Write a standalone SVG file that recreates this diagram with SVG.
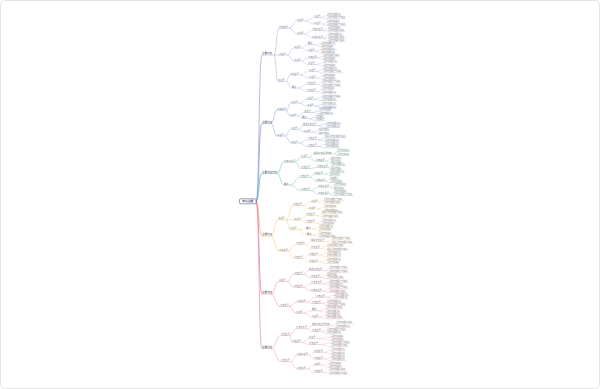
<svg xmlns="http://www.w3.org/2000/svg" width="600" height="389" viewBox="0 0 600 389">
<style>
text{font-family:"Noto Sans CJK SC","Noto Sans",sans-serif;font-size:2px;fill:#8a8a8a}
.h0{font-size:2.8px;font-weight:bold;fill:#2a2f55}
.h1{font-size:2.5px;fill:#555}
.h2{font-size:2.2px;fill:#777}
path{fill:none;stroke-width:.25}
.a{stroke-width:.45}.b{stroke-width:.38}.c{stroke-width:.3}.r{stroke-width:.7}
.s1 path,path.s1{stroke:#a596d6}
.s2 path,path.s2{stroke:#6f8fe0}
.s3 path,path.s3{stroke:#4fb89c}
.s4 path,path.s4{stroke:#f3b35a}
.s5 path,path.s5{stroke:#ec7488}
.s6 path,path.s6{stroke:#e888b8}
</style>
<rect x="0.5" y="0.5" width="599" height="388" rx="5" fill="#fff" stroke="#e3e3e3"/>
<g id="connectors">
<path class="r s1" d="M256 201.3C259.5 201.3 258.5 55 262 55"/>
<path class="r s2" d="M256 201.3C259.5 201.3 258.5 123.5 262 123.5"/>
<path class="r s3" d="M256 201.3C259.5 201.3 258.5 173.5 262 173.5"/>
<path class="r s4" d="M256 201.3C259.5 201.3 258.5 236 262 236"/>
<path class="r s5" d="M256 201.3C259.5 201.3 258.5 294 262 294"/>
<path class="r s6" d="M256 201.3C259.5 201.3 258.5 348.5 262 348.5"/>
<g class="s1">
<path class="a" d="M274 55C276.5 55 276.5 28 279 28"/>
<path class="a" d="M274 55H279"/>
<path class="a" d="M274 55C276 55 276 81.5 278 81.5"/>
<path class="b" d="M289 28C293 28 293 21 297 21"/>
<path class="b" d="M289 28C293 28 293 34 297 34"/>
<path class="b" d="M287 55C290.5 55 290.5 48 294 48"/>
<path class="b" d="M287 55C290.5 55 290.5 61 294 61"/>
<path class="b" d="M286 81.5C288 81.5 288 75 290 75"/>
<path class="b" d="M286 81.5C289 81.5 289 88 292 88"/>
<path class="c" d="M305 21C309.5 21 309.5 17.5 314 17.5"/>
<path class="c" d="M305 21C309.5 21 309.5 24 314 24"/>
<path class="c" d="M305 34C308.5 34 308.5 30.5 312 30.5"/>
<path class="c" d="M305 34C308.5 34 308.5 38 312 38"/>
<path class="c" d="M301 48C304.5 48 304.5 44.5 308 44.5"/>
<path class="c" d="M301 48C304.5 48 304.5 51 308 51"/>
<path class="c" d="M301 61C304.5 61 304.5 58 308 58"/>
<path class="c" d="M301 61C304.5 61 304.5 64.5 308 64.5"/>
<path class="c" d="M300 75C304.5 75 304.5 71.5 309 71.5"/>
<path class="c" d="M300 75C304.5 75 304.5 78 309 78"/>
<path class="c" d="M298 88C302.5 88 302.5 84.5 307 84.5"/>
<path class="c" d="M298 88C302.5 88 302.5 91.5 307 91.5"/>
<path d="M321 17.5C324 17.5 324 15.5 327 15.5"/>
<path d="M321 17.5C324 17.5 324 18.8 327 18.8"/>
<path d="M322 24C324.5 24 324.5 22 327 22"/>
<path d="M322 24C324.5 24 324.5 25.3 327 25.3"/>
<path d="M323 30.5C325.5 30.5 325.5 28.6 328 28.6"/>
<path d="M323 30.5C325.5 30.5 325.5 31.8 328 31.8"/>
<path d="M323 38C325.5 38 325.5 35 328 35"/>
<path d="M323 38C325.5 38 325.5 38.2 328 38.2"/>
<path d="M323 38C325.5 38 325.5 41.4 328 41.4"/>
<path d="M314 44.5C317.5 44.5 317.5 44 321 44"/>
<path d="M314 44.5C317.5 44.5 317.5 47 321 47"/>
<path d="M315 51C318 51 318 49.9 321 49.9"/>
<path d="M315 51C318 51 318 53 321 53"/>
<path d="M317 58C320 58 320 56.2 323 56.2"/>
<path d="M317 58C320 58 320 59.4 323 59.4"/>
<path d="M315 64.5C319 64.5 319 62.7 323 62.7"/>
<path d="M315 64.5C319 64.5 319 66 323 66"/>
<path d="M316 71.5C319.5 71.5 319.5 69.5 323 69.5"/>
<path d="M316 71.5C319.5 71.5 319.5 72.8 323 72.8"/>
<path d="M316 78C319.5 78 319.5 76 323 76"/>
<path d="M316 78C319.5 78 319.5 79.4 323 79.4"/>
<path d="M317 84.5C319.5 84.5 319.5 82.8 322 82.8"/>
<path d="M317 84.5C319.5 84.5 319.5 86.2 322 86.2"/>
<path d="M317 91.5C319.5 91.5 319.5 89.6 322 89.6"/>
<path d="M317 91.5C319.5 91.5 319.5 93 322 93"/>
</g>
<g class="s2">
<path class="a" d="M271 123.5C274 123.5 274 110 277 110"/>
<path class="a" d="M271 123.5C274 123.5 274 136 277 136"/>
<path class="b" d="M286 110C288.5 110 288.5 103 291 103"/>
<path class="b" d="M286 110C288 110 288 116 290 116"/>
<path class="b" d="M285 136C288 136 288 129.5 291 129.5"/>
<path class="b" d="M285 136C288 136 288 143 291 143"/>
<path class="c" d="M299 103C303 103 303 99.5 307 99.5"/>
<path class="c" d="M299 103C303 103 303 106 307 106"/>
<path class="c" d="M298 116C301 116 301 112.5 304 112.5"/>
<path class="c" d="M298 116C300 116 300 118.5 302 118.5"/>
<path class="c" d="M298 129.5C300.5 129.5 300.5 125.5 303 125.5"/>
<path class="c" d="M298 129.5C301 129.5 301 132 304 132"/>
<path class="c" d="M299 143C303.5 143 303.5 139.8 308 139.8"/>
<path class="c" d="M299 143C303.5 143 303.5 146.5 308 146.5"/>
<path d="M314 99.5C318 99.5 318 97 322 97"/>
<path d="M314 99.5C318 99.5 318 100.5 322 100.5"/>
<path d="M315 106C318.5 106 318.5 104.7 322 104.7"/>
<path d="M315 106C318.5 106 318.5 108 322 108"/>
<path d="M312 112.5C315.5 112.5 315.5 110.8 319 110.8"/>
<path d="M312 112.5C315.5 112.5 315.5 114 319 114"/>
<path d="M308 118.5C312 118.5 312 117.5 316 117.5"/>
<path d="M308 118.5C312 118.5 312 120.8 316 120.8"/>
<path d="M317 125.5C321.5 125.5 321.5 124 326 124"/>
<path d="M317 125.5C321.5 125.5 321.5 127.6 326 127.6"/>
<path d="M311 132C315 132 315 130.6 319 130.6"/>
<path d="M311 132C315 132 315 134 319 134"/>
<path d="M318 139.8C321.5 139.8 321.5 137.6 325 137.6"/>
<path d="M318 139.8C321.5 139.8 321.5 141 325 141"/>
<path d="M317 146.5C321 146.5 321 144.5 325 144.5"/>
<path d="M317 146.5C321 146.5 321 147.8 325 147.8"/>
</g>
<g class="s3">
<path class="a" d="M277 173.5C280.5 173.5 280.5 162 284 162"/>
<path class="a" d="M277 173.5C280.5 173.5 280.5 185 284 185"/>
<path class="b" d="M295 162C298 162 298 157.5 301 157.5"/>
<path class="b" d="M295 162C298 162 298 168.5 301 168.5"/>
<path class="b" d="M290 185C295 185 295 177.5 300 177.5"/>
<path class="b" d="M290 185C295.5 185 295.5 190.5 301 190.5"/>
<path class="c" d="M308 157.5C311 157.5 311 154 314 154"/>
<path class="c" d="M308 157.5C312 157.5 312 161 316 161"/>
<path class="c" d="M310 168.5C313.5 168.5 313.5 167.5 317 167.5"/>
<path class="c" d="M310 177.5C312 177.5 312 174 314 174"/>
<path class="c" d="M310 177.5C313 177.5 313 181 316 181"/>
<path class="c" d="M311 190.5C314.5 190.5 314.5 187 318 187"/>
<path class="c" d="M311 190.5C314.5 190.5 314.5 194 318 194"/>
<path d="M334 154C335.5 154 335.5 151.5 337 151.5"/>
<path d="M334 154C335.5 154 335.5 155.6 337 155.6"/>
<path d="M326 161C328.5 161 328.5 159.2 331 159.2"/>
<path d="M326 161C328.5 161 328.5 162.6 331 162.6"/>
<path d="M328 167.5C329.5 167.5 329.5 165.8 331 165.8"/>
<path d="M328 167.5C329.5 167.5 329.5 169.2 331 169.2"/>
<path d="M324 174C327 174 327 172.5 330 172.5"/>
<path d="M324 174C327 174 327 175.8 330 175.8"/>
<path d="M325 181C327.5 181 327.5 179.2 330 179.2"/>
<path d="M325 181C327.5 181 327.5 182.5 330 182.5"/>
<path d="M330 187C332 187 332 185.8 334 185.8"/>
<path d="M330 187C332 187 332 189.2 334 189.2"/>
<path d="M330 194C332 194 332 192.3 334 192.3"/>
<path d="M330 194C332 194 332 195.6 334 195.6"/>
</g>
<g class="s4">
<path class="a" d="M271 236C274.5 236 274.5 219.7 278 219.7"/>
<path class="a" d="M271 236C275 236 275 251 279 251"/>
<path class="b" d="M286 219.7C289.5 219.7 289.5 205.5 293 205.5"/>
<path class="b" d="M286 219.7C290 219.7 290 220 294 220"/>
<path class="b" d="M286 219.7C288 219.7 288 229.5 290 229.5"/>
<path class="b" d="M288 251C292 251 292 244.8 296 244.8"/>
<path class="b" d="M288 251C291 251 291 258.5 294 258.5"/>
<path class="c" d="M302 205.5C306.5 205.5 306.5 202 311 202"/>
<path class="c" d="M302 205.5C305.5 205.5 305.5 209 309 209"/>
<path class="c" d="M301 220C303.5 220 303.5 215.5 306 215.5"/>
<path class="c" d="M301 220C303.5 220 303.5 222.8 306 222.8"/>
<path class="c" d="M298 229.5C302 229.5 302 229 306 229"/>
<path class="c" d="M298 229.5C302.5 229.5 302.5 235 307 235"/>
<path class="c" d="M305 244.8C308 244.8 308 241.5 311 241.5"/>
<path class="c" d="M305 244.8C308 244.8 308 248.3 311 248.3"/>
<path class="c" d="M303 258.5C306 258.5 306 255 309 255"/>
<path class="c" d="M303 258.5C306 258.5 306 262 309 262"/>
<path d="M318 202C321 202 321 200.5 324 200.5"/>
<path d="M318 202C321 202 321 203.8 324 203.8"/>
<path d="M317 209C320.5 209 320.5 207.3 324 207.3"/>
<path d="M317 209C320.5 209 320.5 211 324 211"/>
<path d="M316 215.5C319 215.5 319 213.8 322 213.8"/>
<path d="M316 215.5C319 215.5 319 217.2 322 217.2"/>
<path d="M316 222.8C319 222.8 319 221.2 322 221.2"/>
<path d="M316 222.8C319 222.8 319 224.5 322 224.5"/>
<path d="M312 229C315.5 229 315.5 227.5 319 227.5"/>
<path d="M312 229C315.5 229 315.5 230.8 319 230.8"/>
<path d="M313 235C316 235 316 234 319 234"/>
<path d="M313 235C316 235 316 237.2 319 237.2"/>
<path d="M326 241.5C329 241.5 329 239.8 332 239.8"/>
<path d="M326 241.5C329 241.5 329 243.4 332 243.4"/>
<path d="M321 248.3C324 248.3 324 246.5 327 246.5"/>
<path d="M321 248.3C324 248.3 324 250.2 327 250.2"/>
<path d="M319 255C323 255 323 253.5 327 253.5"/>
<path d="M319 255C323 255 323 256.8 327 256.8"/>
<path d="M319 262C323 262 323 260.2 327 260.2"/>
<path d="M319 262C323 262 323 263.5 327 263.5"/>
</g>
<g class="s5">
<path class="a" d="M271 294C275 294 275 281.3 279 281.3"/>
<path class="a" d="M271 294C275.5 294 275.5 306.5 280 306.5"/>
<path class="b" d="M287 281.3C290.5 281.3 290.5 274.5 294 274.5"/>
<path class="b" d="M287 281.3C290.5 281.3 290.5 287.3 294 287.3"/>
<path class="b" d="M289 306.5C293 306.5 293 302 297 302"/>
<path class="b" d="M289 306.5C292.5 306.5 292.5 313.2 296 313.2"/>
<path class="c" d="M303 274.5C306 274.5 306 270.5 309 270.5"/>
<path class="c" d="M303 274.5C307 274.5 307 277.3 311 277.3"/>
<path class="c" d="M303 287.3C307 287.3 307 283.8 311 283.8"/>
<path class="c" d="M303 287.3C307 287.3 307 291.2 311 291.2"/>
<path class="c" d="M307 302C311.5 302 311.5 297.2 316 297.2"/>
<path class="c" d="M307 302C309.5 302 309.5 303.5 312 303.5"/>
<path class="c" d="M303 313.2C307.5 313.2 307.5 310.8 312 310.8"/>
<path class="c" d="M303 313.2C307.5 313.2 307.5 317.2 312 317.2"/>
<path d="M325 270.5C327 270.5 327 268.8 329 268.8"/>
<path d="M325 270.5C327 270.5 327 272.2 329 272.2"/>
<path d="M320 277.3C323.5 277.3 323.5 275.4 327 275.4"/>
<path d="M320 277.3C323.5 277.3 323.5 278.7 327 278.7"/>
<path d="M323 283.8C326 283.8 326 282.2 329 282.2"/>
<path d="M323 283.8C326 283.8 326 285.4 329 285.4"/>
<path d="M323 291.2C326 291.2 326 288.8 329 288.8"/>
<path d="M323 291.2C326 291.2 326 292.2 329 292.2"/>
<path d="M325 297.2C329.5 297.2 329.5 295.5 334 295.5"/>
<path d="M325 297.2C329.5 297.2 329.5 298.8 334 298.8"/>
<path d="M322 303.5C324.5 303.5 324.5 302.2 327 302.2"/>
<path d="M322 303.5C324.5 303.5 324.5 305.5 327 305.5"/>
<path d="M318 310.8C322 310.8 322 308.8 326 308.8"/>
<path d="M318 310.8C322 310.8 322 312.2 326 312.2"/>
<path d="M319 317.2C322.5 317.2 322.5 315.5 326 315.5"/>
<path d="M319 317.2C322.5 317.2 322.5 318.8 326 318.8"/>
</g>
<g class="s6">
<path class="a" d="M271 348.5C276 348.5 276 335.5 281 335.5"/>
<path class="a" d="M271 348.5C276 348.5 276 361.8 281 361.8"/>
<path class="b" d="M290 335.5C293 335.5 293 328.8 296 328.8"/>
<path class="b" d="M290 335.5C291 335.5 291 342.5 292 342.5"/>
<path class="b" d="M291 361.8C294 361.8 294 355 297 355"/>
<path class="b" d="M291 361.8C294 361.8 294 369 297 369"/>
<path class="c" d="M307 328.8C309.5 328.8 309.5 325.5 312 325.5"/>
<path class="c" d="M307 328.8C309.5 328.8 309.5 331.5 312 331.5"/>
<path class="c" d="M302 342.5C305.5 342.5 305.5 338.5 309 338.5"/>
<path class="c" d="M302 342.5C305.5 342.5 305.5 344.5 309 344.5"/>
<path class="c" d="M309 355C311.5 355 311.5 352.3 314 352.3"/>
<path class="c" d="M309 355C311.5 355 311.5 359 314 359"/>
<path class="c" d="M307 369C310.5 369 310.5 365 314 365"/>
<path class="c" d="M307 369C310.5 369 310.5 372.4 314 372.4"/>
<path d="M332 325.5C334 325.5 334 323.8 336 323.8"/>
<path d="M332 325.5C334 325.5 334 327.2 336 327.2"/>
<path d="M322 331.5C324.5 331.5 324.5 330.5 327 330.5"/>
<path d="M322 331.5C324.5 331.5 324.5 333.8 327 333.8"/>
<path d="M317 338.5C324 338.5 324 337 331 337"/>
<path d="M317 338.5C324 338.5 324 340.2 331 340.2"/>
<path d="M319 344.5C325 344.5 325 343.4 331 343.4"/>
<path d="M319 344.5C325 344.5 325 346.7 331 346.7"/>
<path d="M324 352.3C327.5 352.3 327.5 350.7 331 350.7"/>
<path d="M324 352.3C327.5 352.3 327.5 354 331 354"/>
<path d="M324 359C327.5 359 327.5 357.4 331 357.4"/>
<path d="M324 359C327.5 359 327.5 360.7 331 360.7"/>
<path d="M321 365C325 365 325 364 329 364"/>
<path d="M321 365C325 365 325 367.4 329 367.4"/>
<path d="M324 372.4C326.5 372.4 326.5 370.7 329 370.7"/>
<path d="M324 372.4C326.5 372.4 326.5 374 329 374"/>
</g>
</g>
<g id="root"><rect x="239.5" y="198.8" width="16.5" height="5" rx="1.2" fill="#fff" stroke="#3b3f7a" stroke-width=".5"/><text class="h0" x="247.75" y="202.3" text-anchor="middle">中心主题</text></g>
<g class="s1">
<g id="t1"><path class="a" d="M262 55h12"/><text class="h1" x="262" y="54.4">主要内容</text></g>
<g id="t1a"><path class="b" d="M279 28h10"/><text class="h2" x="279" y="27.5">分支主题</text></g>
<g id="t1a1"><path class="c" d="M297 21h8"/><text class="h2" x="297" y="20.5">子主题</text></g>
<g id="t1a1a"><path class="c" d="M314 17.5h7"/><text class="h2" x="314" y="17">子主题</text></g>
<g id="t1a1a1"><path d="M327 15.5h14"/><text x="327" y="15.1">具体内容要点项</text></g>
<g id="t1a1a2"><path d="M327 18.8h19"/><text x="327" y="18.4">具体内容要点与说明</text></g>
<g id="t1a1b"><path class="c" d="M314 24h8"/><text class="h2" x="314" y="23.5">子主题</text></g>
<g id="t1a1b1"><path d="M327 22h13"/><text x="327" y="21.6">具体内容说明</text></g>
<g id="t1a1b2"><path d="M327 25.3h19"/><text x="327" y="24.9">具体内容要点与说明</text></g>
<g id="t1a2"><path class="c" d="M297 34h8"/><text class="h2" x="297" y="33.5">子主题</text></g>
<g id="t1a2a"><path class="c" d="M312 30.5h11"/><text class="h2" x="312" y="30">分支子主题</text></g>
<g id="t1a2a1"><path d="M328 28.6h13"/><text x="328" y="28.2">具体内容说明</text></g>
<g id="t1a2a2"><path d="M328 31.8h18"/><text x="328" y="31.4">具体内容要点说明</text></g>
<g id="t1a2b"><path class="c" d="M312 38h11"/><text class="h2" x="312" y="37.5">分支子主题</text></g>
<g id="t1a2b1"><path d="M328 35h16"/><text x="328" y="34.6">具体内容要点项</text></g>
<g id="t1a2b2"><path d="M328 38.2h18"/><text x="328" y="37.8">具体内容要点说明</text></g>
<g id="t1a2b3"><path d="M328 41.4h18"/><text x="328" y="41">具体内容要点说明</text></g>
<g id="t1b"><path class="b" d="M279 55h8"/><text class="h2" x="279" y="54.5">子主题</text></g>
<g id="t1b1"><path class="c" d="M294 48h7"/><text class="h2" x="294" y="47.5">子主题</text></g>
<g id="t1b1a"><path class="c" d="M308 44.5h6"/><text class="h2" x="308" y="44">要点</text></g>
<g id="t1b1a1"><path d="M321 44h15"/><text x="321" y="43.6">具体内容要点项</text></g>
<g id="t1b1a2"><path d="M321 47h12"/><text x="321" y="46.6">具体内容说明</text></g>
<g id="t1b1b"><path class="c" d="M308 51h7"/><text class="h2" x="308" y="50.5">子主题</text></g>
<g id="t1b1b1"><path d="M321 49.9h16"/><text x="321" y="49.5">具体内容要点项</text></g>
<g id="t1b1b2"><path d="M321 53h15"/><text x="321" y="52.6">具体内容要点项</text></g>
<g id="t1b2"><path class="c" d="M294 61h7"/><text class="h2" x="294" y="60.5">子主题</text></g>
<g id="t1b2a"><path class="c" d="M308 58h9"/><text class="h2" x="308" y="57.5">分支主题</text></g>
<g id="t1b2a1"><path d="M323 56.2h18"/><text x="323" y="55.8">具体内容要点说明</text></g>
<g id="t1b2a2"><path d="M323 59.4h12"/><text x="323" y="59">具体内容说明</text></g>
<g id="t1b2b"><path class="c" d="M308 64.5h7"/><text class="h2" x="308" y="64">子主题</text></g>
<g id="t1b2b1"><path d="M323 62.7h15"/><text x="323" y="62.3">具体内容要点项</text></g>
<g id="t1b2b2"><path d="M323 66h13"/><text x="323" y="65.6">具体内容说明</text></g>
<g id="t1c"><path class="b" d="M278 81.5h8"/><text class="h2" x="278" y="81">子主题</text></g>
<g id="t1c1"><path class="c" d="M290 75h10"/><text class="h2" x="290" y="74.5">分支主题</text></g>
<g id="t1c1a"><path class="c" d="M309 71.5h7"/><text class="h2" x="309" y="71">子主题</text></g>
<g id="t1c1a1"><path d="M323 69.5h15"/><text x="323" y="69.1">具体内容要点项</text></g>
<g id="t1c1a2"><path d="M323 72.8h20"/><text x="323" y="72.4">具体内容要点与说明</text></g>
<g id="t1c1b"><path class="c" d="M309 78h7"/><text class="h2" x="309" y="77.5">子主题</text></g>
<g id="t1c1b1"><path d="M323 76h12"/><text x="323" y="75.6">具体内容说明</text></g>
<g id="t1c1b2"><path d="M323 79.4h13"/><text x="323" y="79">具体内容说明</text></g>
<g id="t1c2"><path class="c" d="M292 88h6"/><text class="h2" x="292" y="87.5">要点</text></g>
<g id="t1c2a"><path class="c" d="M307 84.5h10"/><text class="h2" x="307" y="84">分支主题</text></g>
<g id="t1c2a1"><path d="M322 82.8h20"/><text x="322" y="82.4">具体内容要点与说明</text></g>
<g id="t1c2a2"><path d="M322 86.2h20"/><text x="322" y="85.8">具体内容要点与说明</text></g>
<g id="t1c2b"><path class="c" d="M307 91.5h10"/><text class="h2" x="307" y="91">分支主题</text></g>
<g id="t1c2b1"><path d="M322 89.6h12"/><text x="322" y="89.2">具体内容说明</text></g>
<g id="t1c2b2"><path d="M322 93h15"/><text x="322" y="92.6">具体内容要点项</text></g>
</g>
<g class="s2">
<g id="t2"><path class="a" d="M262 123.5h9"/><text class="h1" x="262" y="122.9">主要内容</text></g>
<g id="t2a"><path class="b" d="M277 110h9"/><text class="h2" x="277" y="109.5">分支主题</text></g>
<g id="t2a1"><path class="c" d="M291 103h8"/><text class="h2" x="291" y="102.5">子主题</text></g>
<g id="t2a1a"><path class="c" d="M307 99.5h7"/><text class="h2" x="307" y="99">子主题</text></g>
<g id="t2a1a1"><path d="M322 97h19"/><text x="322" y="96.6">具体内容要点与说明</text></g>
<g id="t2a1a2"><path d="M322 100.5h16"/><text x="322" y="100.1">具体内容要点项</text></g>
<g id="t2a1b"><path class="c" d="M307 106h8"/><text class="h2" x="307" y="105.5">子主题</text></g>
<g id="t2a1b1"><path d="M322 104.7h15"/><text x="322" y="104.3">具体内容要点项</text></g>
<g id="t2a1b2"><path d="M322 108h15"/><text x="322" y="107.6">具体内容要点项</text></g>
<g id="t2a2"><path class="c" d="M290 116h8"/><text class="h2" x="290" y="115.5">子主题</text></g>
<g id="t2a2a"><path class="c" d="M304 112.5h8"/><text class="h2" x="304" y="112">子主题</text></g>
<g id="t2a2a1"><path d="M319 110.8h12"/><text x="319" y="110.4">具体内容说明</text></g>
<g id="t2a2a2"><path d="M319 114h15"/><text x="319" y="113.6">具体内容要点项</text></g>
<g id="t2a2b"><path class="c" d="M302 118.5h6"/><text class="h2" x="302" y="118">要点</text></g>
<g id="t2a2b1"><path d="M316 117.5h9"/><text x="316" y="117.1">内容要点</text></g>
<g id="t2a2b2"><path d="M316 120.8h9"/><text x="316" y="120.4">内容要点</text></g>
<g id="t2b"><path class="b" d="M277 136h8"/><text class="h2" x="277" y="135.5">子主题</text></g>
<g id="t2b1"><path class="c" d="M291 129.5h7"/><text class="h2" x="291" y="129">子主题</text></g>
<g id="t2b1a"><path class="c" d="M303 125.5h14"/><text class="h2" x="303" y="125">相关分支主题</text></g>
<g id="t2b1a1"><path d="M326 124h16"/><text x="326" y="123.6">具体内容要点项</text></g>
<g id="t2b1a2"><path d="M326 127.6h14"/><text x="326" y="127.2">具体内容要点项</text></g>
<g id="t2b1b"><path class="c" d="M304 132h7"/><text class="h2" x="304" y="131.5">子主题</text></g>
<g id="t2b1b1"><path d="M319 130.6h11"/><text x="319" y="130.2">相关内容项</text></g>
<g id="t2b1b2"><path d="M319 134h11"/><text x="319" y="133.6">相关内容项</text></g>
<g id="t2b2"><path class="c" d="M291 143h8"/><text class="h2" x="291" y="142.5">子主题</text></g>
<g id="t2b2a"><path class="c" d="M308 139.8h10"/><text class="h2" x="308" y="139.3">分支主题</text></g>
<g id="t2b2a1"><path d="M325 137.6h22"/><text x="325" y="137.2">相关具体内容要点说明</text></g>
<g id="t2b2a2"><path d="M325 141h14"/><text x="325" y="140.6">具体内容要点项</text></g>
<g id="t2b2b"><path class="c" d="M308 146.5h9"/><text class="h2" x="308" y="146">分支主题</text></g>
<g id="t2b2b1"><path d="M325 144.5h14"/><text x="325" y="144.1">具体内容要点项</text></g>
<g id="t2b2b2"><path d="M325 147.8h14"/><text x="325" y="147.4">具体内容要点项</text></g>
</g>
<g class="s3">
<g id="t3"><path class="a" d="M262 173.5h15"/><text class="h1" x="262" y="172.9">主要内容方向</text></g>
<g id="t3a"><path class="b" d="M284 162h11"/><text class="h2" x="284" y="161.5">分支子主题</text></g>
<g id="t3a1"><path class="c" d="M301 157.5h7"/><text class="h2" x="301" y="157">子主题</text></g>
<g id="t3a1a"><path class="c" d="M314 154h20"/><text class="h2" x="314" y="153.5">相关分支主题内容</text></g>
<g id="t3a1a1"><path d="M337 151.5h13"/><text x="337" y="151.1">具体内容说明</text></g>
<g id="t3a1a2"><path d="M337 155.6h12"/><text x="337" y="155.2">具体内容说明</text></g>
<g id="t3a1b"><path class="c" d="M316 161h10"/><text class="h2" x="316" y="160.5">分支主题</text></g>
<g id="t3a1b1"><path d="M331 159.2h11"/><text x="331" y="158.8">相关内容项</text></g>
<g id="t3a1b2"><path d="M331 162.6h11"/><text x="331" y="162.2">相关内容项</text></g>
<g id="t3a2"><path class="c" d="M301 168.5h9"/><text class="h2" x="301" y="168">分支主题</text></g>
<g id="t3a2a"><path class="c" d="M317 167.5h11"/><text class="h2" x="317" y="167">分支子主题</text></g>
<g id="t3a2a1"><path d="M331 165.8h15"/><text x="331" y="165.4">具体内容要点项</text></g>
<g id="t3a2a2"><path d="M331 169.2h11"/><text x="331" y="168.8">相关内容项</text></g>
<g id="t3b"><path class="b" d="M284 185h6"/><text class="h2" x="284" y="184.5">要点</text></g>
<g id="t3b1"><path class="c" d="M300 177.5h10"/><text class="h2" x="300" y="177">分支主题</text></g>
<g id="t3b1a"><path class="c" d="M314 174h10"/><text class="h2" x="314" y="173.5">分支主题</text></g>
<g id="t3b1a1"><path d="M330 172.5h15"/><text x="330" y="172.1">具体内容要点项</text></g>
<g id="t3b1a2"><path d="M330 175.8h10"/><text x="330" y="175.4">相关内容项</text></g>
<g id="t3b1b"><path class="c" d="M316 181h9"/><text class="h2" x="316" y="180.5">分支主题</text></g>
<g id="t3b1b1"><path d="M330 179.2h8"/><text x="330" y="178.8">内容要点</text></g>
<g id="t3b1b2"><path d="M330 182.5h13"/><text x="330" y="182.1">具体内容说明</text></g>
<g id="t3b2"><path class="c" d="M301 190.5h10"/><text class="h2" x="301" y="190">分支主题</text></g>
<g id="t3b2a"><path class="c" d="M318 187h12"/><text class="h2" x="318" y="186.5">分支子主题</text></g>
<g id="t3b2a1"><path d="M334 185.8h12"/><text x="334" y="185.4">具体内容说明</text></g>
<g id="t3b2a2"><path d="M334 189.2h11"/><text x="334" y="188.8">相关内容项</text></g>
<g id="t3b2b"><path class="c" d="M318 194h12"/><text class="h2" x="318" y="193.5">分支子主题</text></g>
<g id="t3b2b1"><path d="M334 192.3h13"/><text x="334" y="191.9">具体内容说明</text></g>
<g id="t3b2b2"><path d="M334 195.6h20"/><text x="334" y="195.2">具体内容要点与说明</text></g>
</g>
<g class="s4">
<g id="t4"><path class="a" d="M262 236h9"/><text class="h1" x="262" y="235.4">主要内容</text></g>
<g id="t4a"><path class="b" d="M278 219.7h8"/><text class="h2" x="278" y="219.2">子主题</text></g>
<g id="t4a1"><path class="c" d="M293 205.5h9"/><text class="h2" x="293" y="205">分支主题</text></g>
<g id="t4a1a"><path class="c" d="M311 202h7"/><text class="h2" x="311" y="201.5">子主题</text></g>
<g id="t4a1a1"><path d="M324 200.5h20"/><text x="324" y="200.1">具体内容要点与说明</text></g>
<g id="t4a1a2"><path d="M324 203.8h17"/><text x="324" y="203.4">具体内容要点说明</text></g>
<g id="t4a1b"><path class="c" d="M309 209h8"/><text class="h2" x="309" y="208.5">子主题</text></g>
<g id="t4a1b1"><path d="M324 207.3h13"/><text x="324" y="206.9">具体内容说明</text></g>
<g id="t4a1b2"><path d="M324 211h15"/><text x="324" y="210.6">具体内容要点项</text></g>
<g id="t4a2"><path class="c" d="M294 220h7"/><text class="h2" x="294" y="219.5">子主题</text></g>
<g id="t4a2a"><path class="c" d="M306 215.5h10"/><text class="h2" x="306" y="215">分支主题</text></g>
<g id="t4a2a1"><path d="M322 213.8h22"/><text x="322" y="213.4">相关具体内容要点说明</text></g>
<g id="t4a2a2"><path d="M322 217.2h17"/><text x="322" y="216.8">具体内容要点说明</text></g>
<g id="t4a2b"><path class="c" d="M306 222.8h10"/><text class="h2" x="306" y="222.3">分支主题</text></g>
<g id="t4a2b1"><path d="M322 221.2h14"/><text x="322" y="220.8">具体内容要点项</text></g>
<g id="t4a2b2"><path d="M322 224.5h12"/><text x="322" y="224.1">具体内容说明</text></g>
<g id="t4a3"><path class="c" d="M290 229.5h8"/><text class="h2" x="290" y="229">子主题</text></g>
<g id="t4a3a"><path class="c" d="M306 229h6"/><text class="h2" x="306" y="228.5">要点</text></g>
<g id="t4a3a1"><path d="M319 227.5h15"/><text x="319" y="227.1">具体内容要点项</text></g>
<g id="t4a3a2"><path d="M319 230.8h12"/><text x="319" y="230.4">具体内容说明</text></g>
<g id="t4a3b"><path class="c" d="M307 235h6"/><text class="h2" x="307" y="234.5">要点</text></g>
<g id="t4a3b1"><path d="M319 234h12"/><text x="319" y="233.6">具体内容说明</text></g>
<g id="t4a3b2"><path d="M319 237.2h17"/><text x="319" y="236.8">具体内容要点说明</text></g>
<g id="t4b"><path class="b" d="M279 251h9"/><text class="h2" x="279" y="250.5">分支主题</text></g>
<g id="t4b1"><path class="c" d="M296 244.8h9"/><text class="h2" x="296" y="244.3">分支主题</text></g>
<g id="t4b1a"><path class="c" d="M311 241.5h15"/><text class="h2" x="311" y="241">相关分支主题</text></g>
<g id="t4b1a1"><path d="M332 239.8h20"/><text x="332" y="239.4">具体内容要点与说明</text></g>
<g id="t4b1a2"><path d="M332 243.4h22"/><text x="332" y="243">相关具体内容要点说明</text></g>
<g id="t4b1b"><path class="c" d="M311 248.3h10"/><text class="h2" x="311" y="247.8">分支主题</text></g>
<g id="t4b1b1"><path d="M327 246.5h17"/><text x="327" y="246.1">具体内容要点说明</text></g>
<g id="t4b1b2"><path d="M327 250.2h22"/><text x="327" y="249.8">相关具体内容要点说明</text></g>
<g id="t4b2"><path class="c" d="M294 258.5h9"/><text class="h2" x="294" y="258">分支主题</text></g>
<g id="t4b2a"><path class="c" d="M309 255h10"/><text class="h2" x="309" y="254.5">分支主题</text></g>
<g id="t4b2a1"><path d="M327 253.5h14"/><text x="327" y="253.1">具体内容要点项</text></g>
<g id="t4b2a2"><path d="M327 256.8h14"/><text x="327" y="256.4">具体内容要点项</text></g>
<g id="t4b2b"><path class="c" d="M309 262h10"/><text class="h2" x="309" y="261.5">分支主题</text></g>
<g id="t4b2b1"><path d="M327 260.2h14"/><text x="327" y="259.8">具体内容要点项</text></g>
<g id="t4b2b2"><path d="M327 263.5h12"/><text x="327" y="263.1">具体内容说明</text></g>
</g>
<g class="s5">
<g id="t5"><path class="a" d="M262 294h9"/><text class="h1" x="262" y="293.4">主要内容</text></g>
<g id="t5a"><path class="b" d="M279 281.3h8"/><text class="h2" x="279" y="280.8">子主题</text></g>
<g id="t5a1"><path class="c" d="M294 274.5h9"/><text class="h2" x="294" y="274">分支主题</text></g>
<g id="t5a1a"><path class="c" d="M309 270.5h16"/><text class="h2" x="309" y="270">相关分支主题</text></g>
<g id="t5a1a1"><path d="M329 268.8h20"/><text x="329" y="268.4">具体内容要点与说明</text></g>
<g id="t5a1a2"><path d="M329 272.2h20"/><text x="329" y="271.8">具体内容要点与说明</text></g>
<g id="t5a1b"><path class="c" d="M311 277.3h9"/><text class="h2" x="311" y="276.8">分支主题</text></g>
<g id="t5a1b1"><path d="M327 275.4h10"/><text x="327" y="275">相关内容项</text></g>
<g id="t5a1b2"><path d="M327 278.7h17"/><text x="327" y="278.3">具体内容要点说明</text></g>
<g id="t5a2"><path class="c" d="M294 287.3h9"/><text class="h2" x="294" y="286.8">分支主题</text></g>
<g id="t5a2a"><path class="c" d="M311 283.8h12"/><text class="h2" x="311" y="283.3">分支子主题</text></g>
<g id="t5a2a1"><path d="M329 282.2h20"/><text x="329" y="281.8">具体内容要点与说明</text></g>
<g id="t5a2a2"><path d="M329 285.4h15"/><text x="329" y="285">具体内容要点项</text></g>
<g id="t5a2b"><path class="c" d="M311 291.2h12"/><text class="h2" x="311" y="290.7">分支子主题</text></g>
<g id="t5a2b1"><path d="M329 288.8h20"/><text x="329" y="288.4">具体内容要点与说明</text></g>
<g id="t5a2b2"><path d="M329 292.2h18"/><text x="329" y="291.8">具体内容要点说明</text></g>
<g id="t5b"><path class="b" d="M280 306.5h9"/><text class="h2" x="280" y="306">分支主题</text></g>
<g id="t5b1"><path class="c" d="M297 302h10"/><text class="h2" x="297" y="301.5">分支主题</text></g>
<g id="t5b1a"><path class="c" d="M316 297.2h9"/><text class="h2" x="316" y="296.7">分支主题</text></g>
<g id="t5b1a1"><path d="M334 295.5h15"/><text x="334" y="295.1">具体内容要点项</text></g>
<g id="t5b1a2"><path d="M334 298.8h14"/><text x="334" y="298.4">具体内容要点项</text></g>
<g id="t5b1b"><path class="c" d="M312 303.5h10"/><text class="h2" x="312" y="303">分支主题</text></g>
<g id="t5b1b1"><path d="M327 302.2h15"/><text x="327" y="301.8">具体内容要点项</text></g>
<g id="t5b1b2"><path d="M327 305.5h19"/><text x="327" y="305.1">具体内容要点与说明</text></g>
<g id="t5b2"><path class="c" d="M296 313.2h7"/><text class="h2" x="296" y="312.7">子主题</text></g>
<g id="t5b2a"><path class="c" d="M312 310.8h6"/><text class="h2" x="312" y="310.3">要点</text></g>
<g id="t5b2a1"><path d="M326 308.8h17"/><text x="326" y="308.4">具体内容要点说明</text></g>
<g id="t5b2a2"><path d="M326 312.2h15"/><text x="326" y="311.8">具体内容要点项</text></g>
<g id="t5b2b"><path class="c" d="M312 317.2h7"/><text class="h2" x="312" y="316.7">子主题</text></g>
<g id="t5b2b1"><path d="M326 315.5h15"/><text x="326" y="315.1">具体内容要点项</text></g>
<g id="t5b2b2"><path d="M326 318.8h18"/><text x="326" y="318.4">具体内容要点说明</text></g>
</g>
<g class="s6">
<g id="t6"><path class="a" d="M262 348.5h9"/><text class="h1" x="262" y="347.9">主要内容</text></g>
<g id="t6a"><path class="b" d="M281 335.5h9"/><text class="h2" x="281" y="335">分支主题</text></g>
<g id="t6a1"><path class="c" d="M296 328.8h11"/><text class="h2" x="296" y="328.3">分支子主题</text></g>
<g id="t6a1a"><path class="c" d="M312 325.5h20"/><text class="h2" x="312" y="325">相关分支主题内容</text></g>
<g id="t6a1a1"><path d="M336 323.8h18"/><text x="336" y="323.4">具体内容要点说明</text></g>
<g id="t6a1a2"><path d="M336 327.2h15"/><text x="336" y="326.8">具体内容要点项</text></g>
<g id="t6a1b"><path class="c" d="M312 331.5h10"/><text class="h2" x="312" y="331">分支主题</text></g>
<g id="t6a1b1"><path d="M327 330.5h20"/><text x="327" y="330.1">具体内容要点与说明</text></g>
<g id="t6a1b2"><path d="M327 333.8h15"/><text x="327" y="333.4">具体内容要点项</text></g>
<g id="t6a2"><path class="c" d="M292 342.5h10"/><text class="h2" x="292" y="342">分支主题</text></g>
<g id="t6a2a"><path class="c" d="M309 338.5h8"/><text class="h2" x="309" y="338">子主题</text></g>
<g id="t6a2a1"><path d="M331 337h13"/><text x="331" y="336.6">具体内容说明</text></g>
<g id="t6a2a2"><path d="M331 340.2h13"/><text x="331" y="339.8">具体内容说明</text></g>
<g id="t6a2b"><path class="c" d="M309 344.5h10"/><text class="h2" x="309" y="344">分支主题</text></g>
<g id="t6a2b1"><path d="M331 343.4h20"/><text x="331" y="343">具体内容要点与说明</text></g>
<g id="t6a2b2"><path d="M331 346.7h18"/><text x="331" y="346.3">具体内容要点说明</text></g>
<g id="t6b"><path class="b" d="M281 361.8h10"/><text class="h2" x="281" y="361.3">分支主题</text></g>
<g id="t6b1"><path class="c" d="M297 355h12"/><text class="h2" x="297" y="354.5">分支子主题</text></g>
<g id="t6b1a"><path class="c" d="M314 352.3h10"/><text class="h2" x="314" y="351.8">分支主题</text></g>
<g id="t6b1a1"><path d="M331 350.7h15"/><text x="331" y="350.3">具体内容要点项</text></g>
<g id="t6b1a2"><path d="M331 354h14"/><text x="331" y="353.6">具体内容要点项</text></g>
<g id="t6b1b"><path class="c" d="M314 359h10"/><text class="h2" x="314" y="358.5">分支主题</text></g>
<g id="t6b1b1"><path d="M331 357.4h15"/><text x="331" y="357">具体内容要点项</text></g>
<g id="t6b1b2"><path d="M331 360.7h16"/><text x="331" y="360.3">具体内容要点项</text></g>
<g id="t6b2"><path class="c" d="M297 369h10"/><text class="h2" x="297" y="368.5">分支主题</text></g>
<g id="t6b2a"><path class="c" d="M314 365h7"/><text class="h2" x="314" y="364.5">子主题</text></g>
<g id="t6b2a1"><path d="M329 364h12"/><text x="329" y="363.6">具体内容说明</text></g>
<g id="t6b2a2"><path d="M329 367.4h13"/><text x="329" y="367">具体内容说明</text></g>
<g id="t6b2b"><path class="c" d="M314 372.4h10"/><text class="h2" x="314" y="371.9">分支主题</text></g>
<g id="t6b2b1"><path d="M329 370.7h18"/><text x="329" y="370.3">具体内容要点说明</text></g>
<g id="t6b2b2"><path d="M329 374h20"/><text x="329" y="373.6">具体内容要点与说明</text></g>
</g>
</svg>
